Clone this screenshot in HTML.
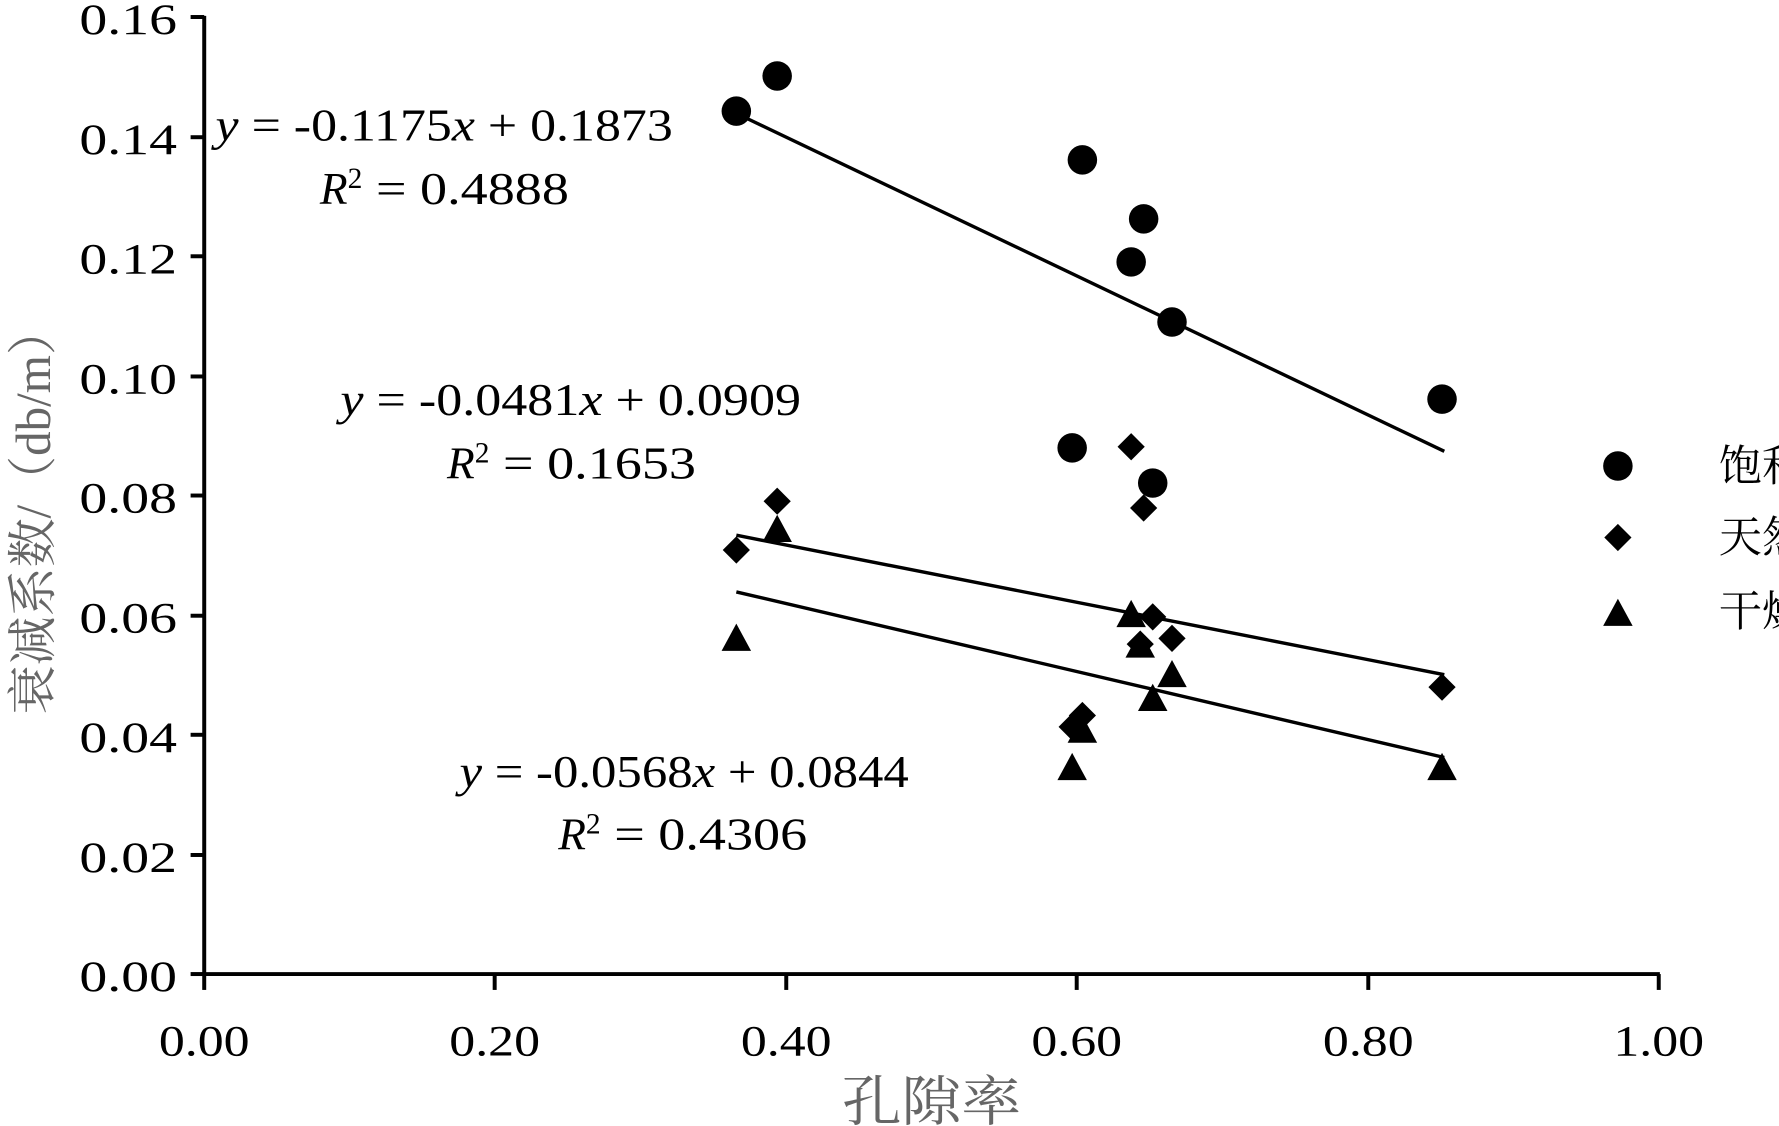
<!DOCTYPE html>
<html><head><meta charset="utf-8"><style>
html,body{margin:0;padding:0;background:#fff;}
svg{display:block;}
text{font-family:"Liberation Serif","Noto Serif CJK SC",serif;}
</style></head><body>
<svg width="1779" height="1126" viewBox="0 0 1568 993" preserveAspectRatio="none" xmlns="http://www.w3.org/2000/svg">
<g stroke="#000" stroke-width="3.5" fill="none">
<line x1="180" y1="14" x2="180" y2="860"/>
<line x1="178" y1="859" x2="1463" y2="859"/>
<line x1="168" y1="15" x2="180" y2="15"/>
<line x1="168" y1="121" x2="180" y2="121"/>
<line x1="168" y1="226" x2="180" y2="226"/>
<line x1="168" y1="332" x2="180" y2="332"/>
<line x1="168" y1="437" x2="180" y2="437"/>
<line x1="168" y1="543" x2="180" y2="543"/>
<line x1="168" y1="648" x2="180" y2="648"/>
<line x1="168" y1="754" x2="180" y2="754"/>
<line x1="168" y1="859" x2="180" y2="859"/>
<line x1="180" y1="859" x2="180" y2="873"/>
<line x1="436" y1="859" x2="436" y2="873"/>
<line x1="693" y1="859" x2="693" y2="873"/>
<line x1="949" y1="859" x2="949" y2="873"/>
<line x1="1206" y1="859" x2="1206" y2="873"/>
<line x1="1462" y1="859" x2="1462" y2="873"/>
</g>
<g font-size="38" fill="#000">
<text x="70" y="30" textLength="86" lengthAdjust="spacingAndGlyphs">0.16</text>
<text x="70" y="136" textLength="86" lengthAdjust="spacingAndGlyphs">0.14</text>
<text x="70" y="241" textLength="86" lengthAdjust="spacingAndGlyphs">0.12</text>
<text x="70" y="347" textLength="86" lengthAdjust="spacingAndGlyphs">0.10</text>
<text x="70" y="452" textLength="86" lengthAdjust="spacingAndGlyphs">0.08</text>
<text x="70" y="558" textLength="86" lengthAdjust="spacingAndGlyphs">0.06</text>
<text x="70" y="663" textLength="86" lengthAdjust="spacingAndGlyphs">0.04</text>
<text x="70" y="769" textLength="86" lengthAdjust="spacingAndGlyphs">0.02</text>
<text x="70" y="874" textLength="86" lengthAdjust="spacingAndGlyphs">0.00</text>
</g>
<g font-size="38" fill="#000">
<text x="140" y="931" textLength="80" lengthAdjust="spacingAndGlyphs">0.00</text>
<text x="396" y="931" textLength="80" lengthAdjust="spacingAndGlyphs">0.20</text>
<text x="653" y="931" textLength="80" lengthAdjust="spacingAndGlyphs">0.40</text>
<text x="909" y="931" textLength="80" lengthAdjust="spacingAndGlyphs">0.60</text>
<text x="1166" y="931" textLength="80" lengthAdjust="spacingAndGlyphs">0.80</text>
<text x="1422" y="931" textLength="80" lengthAdjust="spacingAndGlyphs">1.00</text>
</g>
<text x="742" y="988" font-size="48" fill="#666" textLength="158" lengthAdjust="spacingAndGlyphs">孔隙率</text>
<text transform="translate(44,630) rotate(-90)" font-size="44" fill="#666" textLength="360" lengthAdjust="spacingAndGlyphs">衰减系数/（db/m）</text>
<g stroke="#000" stroke-width="3">
<line x1="649" y1="100" x2="1273" y2="398"/>
<line x1="649" y1="472" x2="1273" y2="595"/>
<line x1="649" y1="522" x2="1273" y2="668"/>
</g>
<g fill="#000">
<circle cx="649" cy="98" r="13"/><circle cx="685" cy="67" r="13"/><circle cx="954" cy="141" r="13"/>
<circle cx="1008" cy="193" r="13"/><circle cx="997" cy="231" r="13"/><circle cx="1033" cy="284" r="13"/>
<circle cx="1271" cy="352" r="13"/><circle cx="945" cy="395" r="13"/><circle cx="1016" cy="426" r="13"/>
<polygon points="649,473 661,485 649,497 637,485"/><polygon points="685,430 697,442 685,454 673,442"/>
<polygon points="997,382 1009,394 997,406 985,394"/><polygon points="1008,436 1020,448 1008,460 996,448"/>
<polygon points="1016,532 1028,544 1016,556 1004,544"/><polygon points="1033,551 1045,563 1033,575 1021,563"/>
<polygon points="1005,556 1017,568 1005,580 993,568"/><polygon points="945,629 957,641 945,653 933,641"/>
<polygon points="954,619 966,631 954,643 942,631"/><polygon points="1271,594 1283,606 1271,618 1259,606"/>
<polygon points="649,550 662,574 636,574"/><polygon points="685,454 698,478 672,478"/>
<polygon points="997,529 1010,553 984,553"/><polygon points="1005,556 1018,580 992,580"/>
<polygon points="1016,603 1029,627 1003,627"/><polygon points="1033,582 1046,606 1020,606"/>
<polygon points="945,664 958,688 932,688"/><polygon points="954,631 967,655 941,655"/>
<polygon points="1271,664 1284,688 1258,688"/>
<circle cx="1426" cy="411" r="13"/>
<polygon points="1426,462 1438,474 1426,486 1414,474"/>
<polygon points="1426,528 1439,552 1413,552"/>
</g>
<g font-size="38" fill="#000">
<text x="1515" y="424">饱和</text>
<text x="1515" y="487">天然</text>
<text x="1515" y="552">干燥</text>
</g>
<g font-size="40" fill="#000">
<text x="190" y="124" textLength="403" lengthAdjust="spacingAndGlyphs"><tspan font-style="italic">y</tspan> = -0.1175<tspan font-style="italic">x</tspan> + 0.1873</text>
<text x="282" y="180"><tspan font-style="italic">R</tspan><tspan font-size="26" dy="-14">2</tspan><tspan dy="14" textLength="182" lengthAdjust="spacingAndGlyphs"> = 0.4888</tspan></text>
<text x="300" y="366" textLength="406" lengthAdjust="spacingAndGlyphs"><tspan font-style="italic">y</tspan> = -0.0481<tspan font-style="italic">x</tspan> + 0.0909</text>
<text x="394" y="422"><tspan font-style="italic">R</tspan><tspan font-size="26" dy="-14">2</tspan><tspan dy="14" textLength="182" lengthAdjust="spacingAndGlyphs"> = 0.1653</tspan></text>
<text x="405" y="694" textLength="396" lengthAdjust="spacingAndGlyphs"><tspan font-style="italic">y</tspan> = -0.0568<tspan font-style="italic">x</tspan> + 0.0844</text>
<text x="492" y="749"><tspan font-style="italic">R</tspan><tspan font-size="26" dy="-14">2</tspan><tspan dy="14" textLength="182" lengthAdjust="spacingAndGlyphs"> = 0.4306</tspan></text>
</g>
</svg>
</body></html>
